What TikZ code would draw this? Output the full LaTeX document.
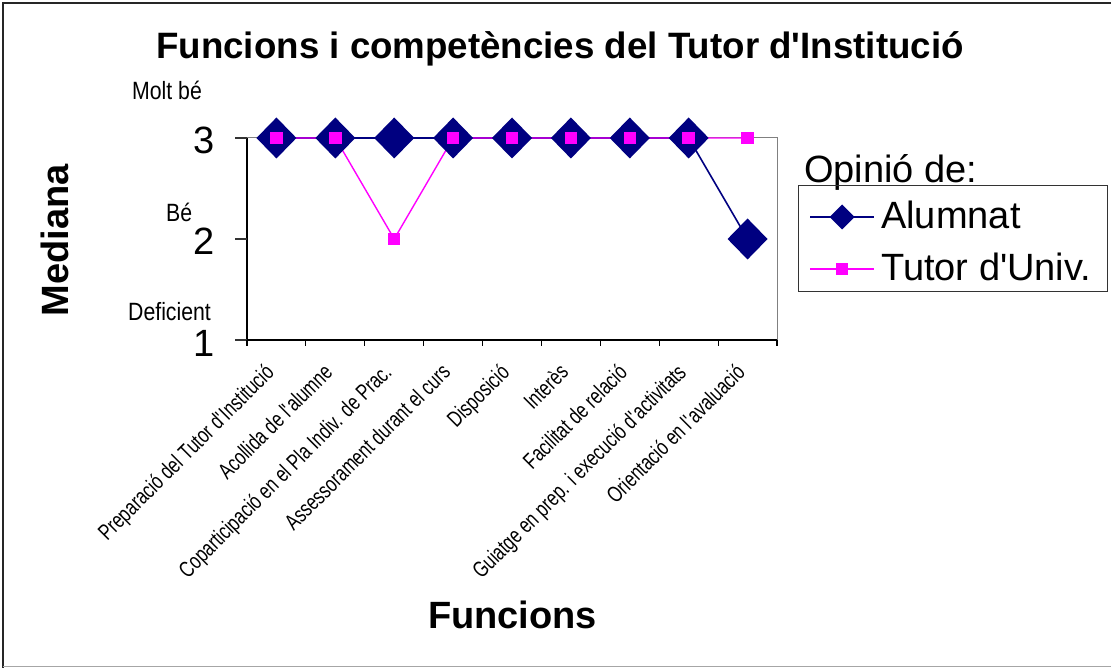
\documentclass[tikz,border=0pt]{standalone}
\usepackage{fontspec}
\setmainfont{Liberation Sans}
\newfontfamily\narrowfont[FakeStretch=0.85]{Liberation Sans}
\newfontfamily\catfont[FakeStretch=0.75]{Liberation Sans}
\usetikzlibrary{shapes.geometric}
\newcommand\fsz[1]{\fontsize{#1}{#1}\selectfont}
\newcommand\apo{\textquotesingle}
\definecolor{navy}{HTML}{000080}
\definecolor{pinkm}{HTML}{FF00FF}
\tikzset{
  diam/.style={shape=diamond, fill=navy, inner sep=0, outer sep=0, minimum width=40, minimum height=41},
  sqm/.style={shape=rectangle, fill=pinkm, inner sep=0, outer sep=0, minimum size=12.5},
  bigtitle/.style={font=\bfseries\fsz{36.7}, inner sep=0},
  axtitle/.style={font=\bfseries\fsz{38}, inner sep=0},
  ticknum/.style={font=\fsz{38}, inner sep=0, anchor=base east},
  qual/.style={font=\narrowfont\fsz{25}, inner sep=0, anchor=base west},
  catlab/.style={font=\catfont\fsz{22.5}, inner sep=0, rotate=45, anchor=north east},
  legtext/.style={font=\fsz{38}, inner sep=0, anchor=base west},
  navyline/.style={draw=navy, line width=1.6},
  pinkline/.style={draw=pinkm, line width=1.4},
}
\begin{document}
\begin{tikzpicture}[x=1pt,y=-1pt]
\path[use as bounding box] (0,0) rectangle (1111,668);
% outer frame
\draw[black!85, line width=2] (3,668) -- (3,3) -- (1111,3);
\draw[gray!70, line width=1.5] (3,666.5) -- (1111,666.5);
% title
\node[bigtitle, anchor=base] (title) at (560,59) {Funcions i competències del Tutor d\apo Institució};
% plot area border
\draw[gray, line width=1] (247,138) -- (777,138) -- (777,340);
% axes
\draw[black, line width=1.3] (247,138) -- (247,340) -- (777,340);
\foreach \y in {138,239,340} \draw[black!80, line width=1.2] (235,\y) -- (247,\y);
\foreach \i in {0,...,9} \draw[black, line width=1.2] ({247+58.889*\i},340) -- ({247+58.889*\i},346);
% y tick labels
\node[ticknum] (t3) at (215,153.5) {3};
\node[ticknum] (t2) at (215,255) {2};
\node[ticknum] (t1) at (215,356) {1};
\node[qual] (q3) at (132,100) {Molt bé};
\node[qual] (q2) at (166,221.5) {Bé};
\node[qual] (q1) at (128,320) {Deficient};
% axis titles
\node[axtitle, anchor=base] (xtitle) at (512.5,628) {Funcions};
\node[axtitle, anchor=base, rotate=90] (ytitle) at (68,240) {Mediana};
% category labels
\foreach \t [count=\i] in {Preparació del Tutor d\apo Institució,Acollida de l\apo alumne,Coparticipació en el Pla Indiv. de Prac.,Assessorament durant el curs,Disposició,Interès,Facilitat de relació,Guiatge en prep. i execució d\apo activitats,Orientació en l\apo avaluació}
  \node[catlab] (c\i) at ({247+58.889*(\i-0.5)-13},362) {\t};
% data
\foreach \v [count=\i] in {3,3,3,3,3,3,3,3,2}
  \coordinate (a\i) at ({247+58.889*(\i-0.5)},{340-(\v-1)*101});
\foreach \v [count=\i] in {3,3,2,3,3,3,3,3,3}
  \coordinate (b\i) at ({247+58.889*(\i-0.5)},{340-(\v-1)*101});
\draw[navyline] (a1) -- (a2) -- (a3) -- (a4) -- (a5) -- (a6) -- (a7) -- (a8) -- (a9);
\draw[pinkline] (b1) -- (b2) -- (b3) -- (b4) -- (b5) -- (b6) -- (b7) -- (b8) -- (b9);
\foreach \i in {1,...,9} \node[diam] (ma\i) at (a\i) {};
\foreach \i in {1,...,9} \node[sqm] (mb\i) at (b\i) {};
% legend
\node[legtext] (legtitle) at (804,183) {Opinió de:};
\draw[black!80, line width=1] (798,186) rectangle (1107,292);
\coordinate (la1) at (810,217); \coordinate (la2) at (874,217);
\coordinate (lb1) at (810,269); \coordinate (lb2) at (874,269);
\draw[navyline] (la1) -- (la2);
\node[diam, minimum width=25, minimum height=25] (lda) at (842,217) {};
\draw[pinkline] (lb1) -- (lb2);
\node[sqm, minimum size=12] (ldb) at (842,269) {};
\node[legtext] (lta) at (881,229) {Alumnat};
\node[legtext] (ltb) at (881,281) {Tutor d\apo Univ.};
\end{tikzpicture}
\end{document}
